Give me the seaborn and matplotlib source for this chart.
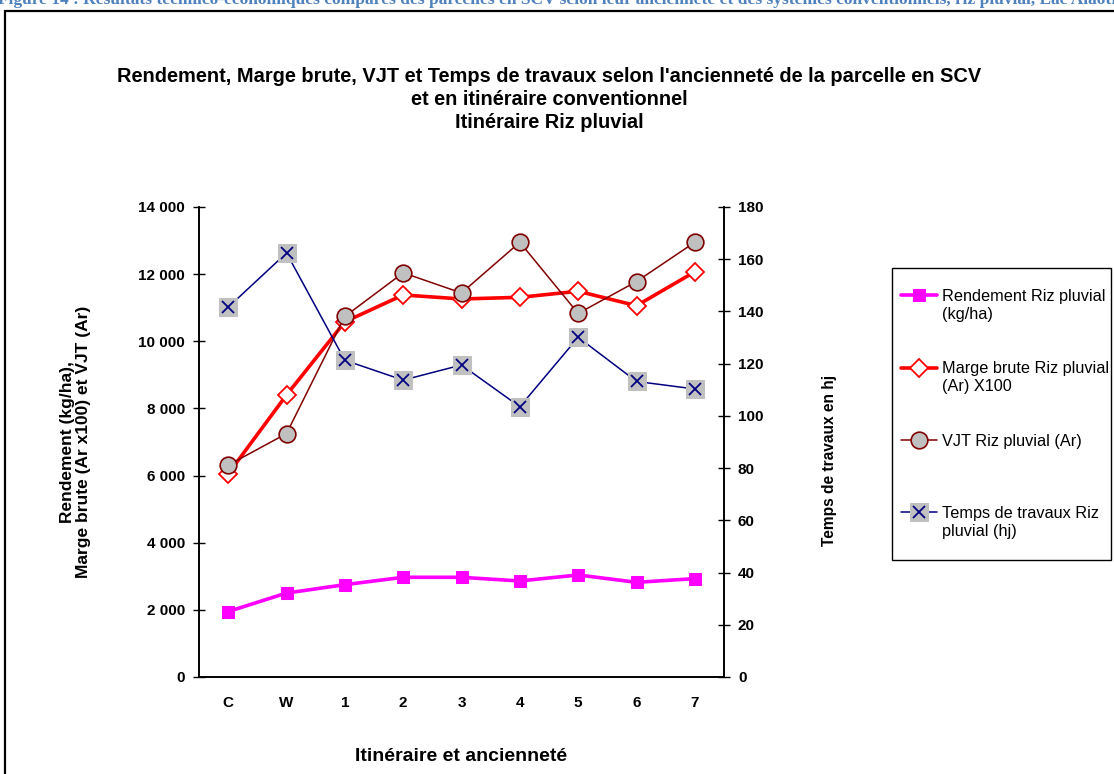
import numpy as np
import pandas as pd
import matplotlib
matplotlib.use("Agg")
import matplotlib.pyplot as plt
from matplotlib.patches import Rectangle
from matplotlib.lines import Line2D
from matplotlib.legend_handler import HandlerTuple
import seaborn as sns

# ── Data ──────────────────────────────────────────────────────────────
categories = ["C", "W", "1", "2", "3", "4", "5", "6", "7"]
rendement  = [1950, 2500, 2750, 2970, 2970, 2860, 3040, 2820, 2930]         # kg/ha
marge      = [6050, 8400, 10580, 11380, 11260, 11310, 11490, 11060, 12070]  # Ar x100
vjt        = [6310, 7250, 10740, 12040, 11440, 12950, 10830, 11780, 12950]  # Ar
temps      = [141.6, 162.4, 121.3, 113.7, 119.5, 103.5, 130.1, 113.2, 110.3]  # hj

left_ticks  = [0, 2000, 4000, 6000, 8000, 10000, 12000, 14000]
right_ticks = [0, 20, 40, 60, 80, 100, 120, 140, 160, 180]

legend_labels = ["Rendement Riz pluvial\n(kg/ha)",
                 "Marge brute Riz pluvial\n(Ar) X100",
                 "VJT Riz pluvial (Ar)",
                 "Temps de travaux Riz\npluvial (hj)"]

df = pd.DataFrame({"pos": np.arange(len(categories)), "cat": categories,
                   "rendement": rendement, "marge": marge,
                   "vjt": vjt, "temps": temps})

sns.set_theme(style="white")
plt.rcParams["font.family"] = ["Liberation Sans", "DejaVu Sans"]
plt.rcParams.update({"text.color": "black", "axes.labelcolor": "black",
                     "xtick.color": "black", "ytick.color": "black"})

fig = plt.figure(figsize=(11.14, 7.74), dpi=100)
ax = fig.add_axes([199 / 1114, 97 / 774, 525 / 1114, 470 / 774])
ax2 = ax.twinx()

# ── Series ────────────────────────────────────────────────────────────
sns.lineplot(data=df, x="pos", y="rendement", ax=ax, color="#FF00FF", lw=2.6,
             marker="s", markersize=9, markerfacecolor="#FF00FF",
             markeredgecolor="#FF00FF", legend=False)
sns.lineplot(data=df, x="pos", y="marge", ax=ax, color="#FF0000", lw=2.6,
             marker="D", markersize=9, markerfacecolor="white",
             markeredgecolor="#FF0000", markeredgewidth=1.3, legend=False)
sns.lineplot(data=df, x="pos", y="vjt", ax=ax, color="#800000", lw=1.1,
             marker="o", markersize=12, markerfacecolor="#C0C0C0",
             markeredgecolor="#800000", markeredgewidth=1.2, legend=False)
sns.lineplot(data=df, x="pos", y="temps", ax=ax2, color="#000080", lw=1.1,
             marker="s", markersize=13, markerfacecolor="#C0C0C0",
             markeredgecolor="#C0C0C0", legend=False)
sns.lineplot(data=df, x="pos", y="temps", ax=ax2, color="#000080", lw=0,
             marker="x", markersize=8, markeredgecolor="#000080",
             markeredgewidth=1.3, legend=False)

# ── Axes ──────────────────────────────────────────────────────────────
ax.set_xlim(-0.5, len(categories) - 0.5)
ax.set_ylim(0, 14000)
ax2.set_ylim(0, 180)
ax.set_yticks(left_ticks)
ax.set_yticklabels([f"{v:,}".replace(",", " ") for v in left_ticks])
ax2.set_yticks(right_ticks)
ax.set_xticks(df["pos"])
ax.set_xticklabels(categories)
ax.set_xticks(np.arange(-0.5, len(categories)), minor=True)
ax.tick_params(axis="x", which="major", length=0, pad=14)
ax.tick_params(axis="x", which="minor", direction="inout", length=8, width=1, color="black")
ax.tick_params(axis="y", direction="inout", length=8, width=1, color="black", left=True, pad=6)
ax2.tick_params(axis="y", direction="inout", length=8, width=1, color="black", right=True, pad=6)
for a in (ax, ax2):
    for lab in a.get_xticklabels() + a.get_yticklabels():
        lab.set_fontweight("bold")
        lab.set_fontsize(11)
    a.spines["top"].set_visible(False)
    for s in ("left", "right", "bottom"):
        a.spines[s].set_color("black")
        a.spines[s].set_linewidth(1.2)
ax.grid(False)
ax2.grid(False)

ax.set_xlabel("Itinéraire et ancienneté", fontsize=14, fontweight="bold", labelpad=27)
ax.set_ylabel("Rendement (kg/ha),\nMarge brute (Ar x100) et VJT (Ar)",
              fontsize=12.5, fontweight="bold", linespacing=1.1)
ax.yaxis.set_label_coords(-0.206, 0.5)
ax2.set_ylabel("Temps de travaux en hj", fontsize=11.2, fontweight="bold")
ax2.yaxis.set_label_coords(1.186, 0.46)

# ── Legend (one row per text line, 4 rows per entry) ──────────────────
series_handles = [ax.lines[0], ax.lines[1], ax.lines[2], (ax2.lines[0], ax2.lines[1])]
blank = Line2D([], [], linestyle="none")
rows_h, rows_l = [], []
for i, (h, lab) in enumerate(zip(series_handles, legend_labels)):
    lines = lab.split("\n")
    n_rows = 4 if i < len(series_handles) - 1 else len(lines)
    for r in range(n_rows):
        rows_h.append(h if r == 0 else blank)
        rows_l.append(lines[r] if r < len(lines) else "")
leg = fig.legend(rows_h, rows_l, loc="upper left",
                 bbox_to_anchor=(901 / 1114, 1 - 289 / 774), frameon=False,
                 fontsize=11.7, labelspacing=0.19, handlelength=2.2, handletextpad=0.3,
                 borderpad=0, borderaxespad=0,
                 handler_map={tuple: HandlerTuple(ndivide=1)})
fig.patches.append(Rectangle((892 / 1114, 1 - 560 / 774), 219 / 1114, 292 / 774,
                             transform=fig.transFigure, fill=False,
                             edgecolor="black", linewidth=1.0))

# ── Titles and frame ──────────────────────────────────────────────────
fig.text(549 / 1114, 1 - 67 / 774,
         "Rendement, Marge brute, VJT et Temps de travaux selon l'ancienneté de la parcelle en SCV\n"
         "et en itinéraire conventionnel\nItinéraire Riz pluvial",
         ha="center", va="top", fontsize=14.4, fontweight="bold", linespacing=1.28)
fig.text(-2 / 1114, 1 - 4 / 774,
         "Figure 14 : Résultats technico-économiques comparés des parcelles en SCV selon leur ancienneté "
         "et des systèmes conventionnels, riz pluvial, Lac Alaotra, Madagascar",
         ha="left", va="baseline", fontsize=12.5, fontweight="bold",
         color="#4F81BD", family=["Liberation Serif", "DejaVu Serif"])
fig.patches.append(Rectangle((5 / 1114, -0.05), 1.1, 1 - 11 / 774 + 0.05,
                             transform=fig.transFigure, fill=False,
                             edgecolor="black", linewidth=1.6))

fig.savefig("out.png", dpi=100)
